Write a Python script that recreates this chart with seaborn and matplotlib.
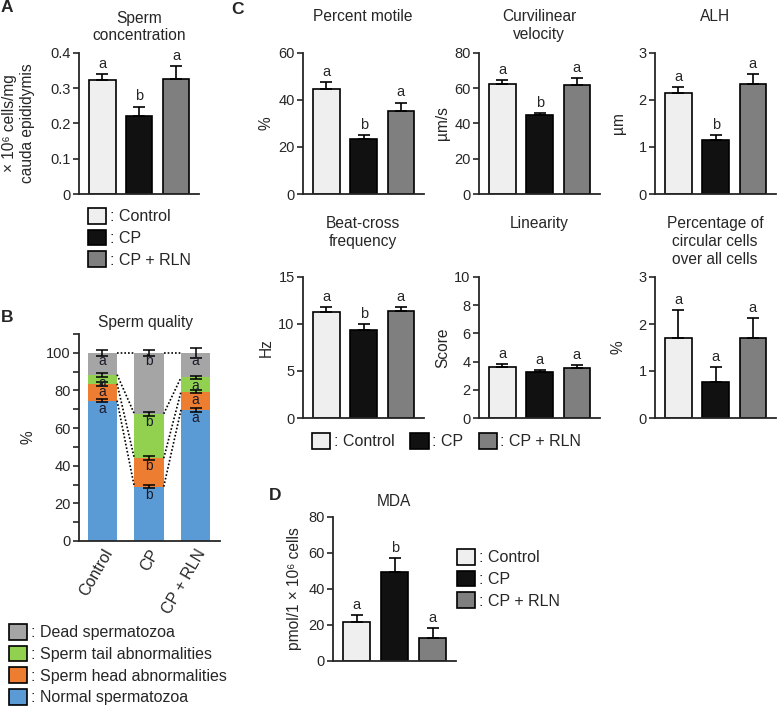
import numpy as np
import pandas as pd
import seaborn as sns
import matplotlib
matplotlib.use("Agg")
import matplotlib.pyplot as plt
from matplotlib.patches import Patch

# groups shared by every panel
groups = ["Control", "CP", "CP + RLN"]
group_colors = ["#efefef", "#111111", "#7f7f7f"]

# A - sperm concentration
conc = [0.324, 0.220, 0.326]
conc_err = [0.017, 0.028, 0.036]
conc_letters = ["a", "b", "a"]

# B - sperm quality (percent of cells)
quality_names = ["Normal spermatozoa", "Sperm head abnormalities",
                 "Sperm tail abnormalities", "Dead spermatozoa"]
quality_colors = ["#5b9bd5", "#ed7d31", "#92d050", "#a5a5a5"]
normal = [74.6, 28.9, 69.7]
head = [9.0, 15.1, 9.7]
tail = [4.8, 23.6, 7.5]
dead = [11.6, 32.4, 13.1]
normal_err = [1.0, 1.0, 1.0]
head_err = [1.0, 1.0, 1.0]
tail_err = [1.0, 1.2, 1.0]
dead_err = [1.5, 1.5, 2.5]
quality_letters = [["a", "b", "a"]] * 4

# C - motility parameters
motile = [44.7, 23.4, 35.5]
motile_err = [3.1, 1.7, 3.4]
motile_letters = ["a", "b", "a"]
vcl = [62.2, 44.8, 61.7]
vcl_err = [2.5, 1.0, 4.3]
vcl_letters = ["a", "b", "a"]
alh = [2.14, 1.15, 2.34]
alh_err = [0.13, 0.11, 0.21]
alh_letters = ["a", "b", "a"]
bcf = [11.3, 9.4, 11.4]
bcf_err = [0.5, 0.55, 0.4]
bcf_letters = ["a", "b", "a"]
lin = [3.62, 3.28, 3.57]
lin_err = [0.2, 0.1, 0.2]
lin_letters = ["a", "a", "a"]
circ = [1.71, 0.76, 1.71]
circ_err = [0.58, 0.32, 0.41]
circ_letters = ["a", "a", "a"]

# D - MDA
mda = [21.8, 49.3, 12.6]
mda_err = [3.7, 7.7, 5.6]
mda_letters = ["a", "b", "a"]

sns.set_style("ticks")
plt.rcParams["font.family"] = ["Liberation Sans", "DejaVu Sans"]
plt.rcParams["axes.linewidth"] = 1.3
FS = 10.5      # tick labels
FT = 11.2      # titles and axis labels
FL = 11.5      # legends

W, H = 778, 717
fig = plt.figure(figsize=(W / 100, H / 100), dpi=100)


def px_axes(left, top, width, height):
    return fig.add_axes([left / W, 1 - (top + height) / H, width / W, height / H])


def fig_text(x, y, s, **kw):
    fig.text(x / W, 1 - y / H, s, **kw)


def bar_panel(ax, vals, errs, letters, ymax, ticks, ylabel, labx=-0.24):
    df = pd.DataFrame({"group": groups, "value": vals})
    sns.barplot(data=df, x="group", y="value", hue="group", order=groups,
                hue_order=groups, palette=group_colors, width=0.72,
                edgecolor="black", linewidth=1.2, errorbar=None,
                legend=False, ax=ax)
    ax.errorbar(range(3), vals, yerr=[np.zeros(3), errs], fmt="none",
                ecolor="black", elinewidth=1.2, capsize=4.5, capthick=1.2,
                zorder=1)
    for i in range(3):
        ax.text(i, vals[i] + errs[i] + ymax * 0.022, letters[i],
                ha="center", va="bottom", fontsize=FS)
    ax.set_xlim(-0.63, 2.62)
    ax.set_ylim(0, ymax)
    ax.set_yticks(ticks)
    ax.set_xticks([])
    ax.set_xlabel("")
    ax.set_ylabel(ylabel, fontsize=FT)
    ax.yaxis.set_label_coords(labx, 0.5)
    ax.tick_params(axis="y", direction="out", length=4, width=1.2,
                   labelsize=FS, pad=2)
    sns.despine(ax=ax)


def group_legend(x, y, ncol=1):
    handles = [Patch(facecolor=c, edgecolor="black", linewidth=1.2)
               for c in group_colors]
    fig.legend(handles, [": " + g for g in groups], loc="upper left",
               bbox_to_anchor=(x / W, 1 - y / H), ncol=ncol, frameon=False,
               fontsize=FL, handlelength=1.15, handleheight=1.15,
               handletextpad=0.2, labelspacing=0.33, columnspacing=1.0,
               borderpad=0, borderaxespad=0)


# ---- A
axA = px_axes(79, 53, 120, 141)
bar_panel(axA, conc, conc_err, conc_letters, 0.4, [0, 0.1, 0.2, 0.3, 0.4],
          "× 10⁶ cells/mg\ncauda epididymis", labx=-0.37)
axA.set_yticklabels(["0", "0.1", "0.2", "0.3", "0.4"])
axA.yaxis.label.set_linespacing(1.2)
fig_text(139, 11, "Sperm\nconcentration", ha="center", va="top",
         fontsize=FT, linespacing=1.15)
fig_text(7, 8, "A", ha="center", va="center", fontsize=12.5, weight="bold")
group_legend(88, 208)

# ---- B
axB = px_axes(79, 334, 141, 207)
layers = [normal, head, tail, dead]
errs_b = [normal_err, head_err, tail_err, dead_err]
cum = np.cumsum(np.array(layers), axis=0)
for k in range(3, -1, -1):
    dfb = pd.DataFrame({"group": groups, "value": cum[k]})
    sns.barplot(data=dfb, x="group", y="value", order=groups,
                color=quality_colors[k], width=0.63, errorbar=None,
                linewidth=0, saturation=1, ax=axB)
for k in range(4):
    axB.errorbar(range(3), cum[k], yerr=errs_b[k], fmt="none",
                 ecolor="black", elinewidth=1.1, capsize=4, capthick=1.1,
                 zorder=3)
    for i in range(3):
        axB.text(i, cum[k][i] - 0.6, quality_letters[k][i], ha="center",
                 va="top", fontsize=FS - 0.5, color="#1a1a2a", zorder=4)
    for i in range(2):
        axB.plot([i + 0.315, i + 1 - 0.315], [cum[k][i], cum[k][i + 1]],
                 ls=(0, (1, 1.2)), color="black", lw=1.2, zorder=2)
axB.set_xlim(-0.5, 2.52)
axB.set_ylim(0, 110)
axB.set_yticks(range(0, 101, 20))
axB.set_yticks(range(10, 111, 20), minor=True)
axB.tick_params(axis="y", which="both", direction="out", length=4,
                width=1.2, labelsize=FS, pad=2)
axB.tick_params(axis="x", length=0, labelsize=FL, pad=4)
axB.set_xticks(range(3))
axB.set_xticklabels(groups, rotation=60, ha="right", rotation_mode="anchor")
axB.set_xlabel("")
axB.set_ylabel("%", fontsize=FT)
axB.yaxis.set_label_coords(-0.31, 0.5)
sns.despine(ax=axB)
fig_text(146, 323, "Sperm quality", ha="center", va="center", fontsize=FT)
fig_text(7, 318, "B", ha="center", va="center", fontsize=12.5, weight="bold")
q_handles = [Patch(facecolor=c, edgecolor="black", linewidth=1.2)
             for c in quality_colors[::-1]]
fig.legend(q_handles, [": " + n for n in quality_names[::-1]],
           loc="upper left", bbox_to_anchor=(9 / W, 1 - 624 / H),
           frameon=False, fontsize=FL, handlelength=1.15, handleheight=1.15,
           handletextpad=0.2, labelspacing=0.33, borderpad=0,
           borderaxespad=0)

# ---- C
col_x = [303, 479, 655]
c_panels = [
    (0, col_x[0], "Percent motile", "%", motile, motile_err, motile_letters, 60, range(0, 61, 20)),
    (0, col_x[1], "Curvilinear\nvelocity", "µm/s", vcl, vcl_err, vcl_letters, 80, range(0, 81, 20)),
    (0, col_x[2], "ALH", "µm", alh, alh_err, alh_letters, 3, range(0, 4)),
    (1, col_x[0], "Beat-cross\nfrequency", "Hz", bcf, bcf_err, bcf_letters, 15, range(0, 16, 5)),
    (1, col_x[1], "Linearity", "Score", lin, lin_err, lin_letters, 10, range(0, 11, 2)),
    (1, col_x[2], "Percentage of\ncircular cells\nover all cells", "%", circ, circ_err, circ_letters, 3, range(0, 4)),
]
for row, x0, title, ylab, vals, errs, lets, ymax, ticks in c_panels:
    top = 53 if row == 0 else 277
    ax = px_axes(x0, top, 121, 141)
    bar_panel(ax, vals, errs, lets, ymax, list(ticks), ylab)
    fig_text(x0 + 60, 9 if row == 0 else 216, title, ha="center", va="top",
             fontsize=FT, linespacing=1.25)
fig_text(237, 9, "C", ha="center", va="center", fontsize=12.5, weight="bold")
group_legend(312, 433, ncol=3)

# ---- D
axD = px_axes(333, 517, 123, 144)
bar_panel(axD, mda, mda_err, mda_letters, 80, list(range(0, 81, 20)),
          "pmol/1 × 10⁶ cells", labx=-0.25)
fig_text(394, 502, "MDA", ha="center", va="center", fontsize=FT)
fig_text(275, 496, "D", ha="center", va="center", fontsize=12.5, weight="bold")
group_legend(457, 549)

fig.savefig("out.png", dpi=100)
